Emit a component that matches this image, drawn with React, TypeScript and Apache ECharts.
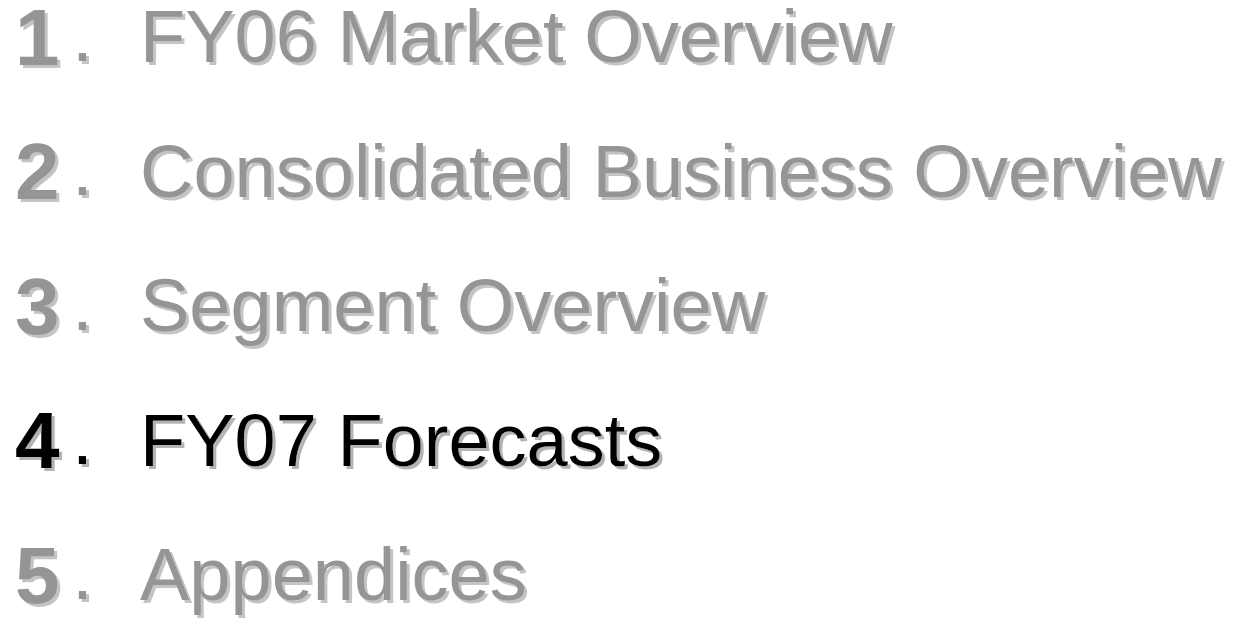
import React, { useEffect, useRef } from "react";
import * as echarts from "echarts";

const numbers = ["1", "2", "3", "4", "5"];
const titles = [
  "FY06 Market Overview",
  "Consolidated Business Overview",
  "Segment Overview",
  "FY07 Forecasts",
  "Appendices",
];
const activeIndex = 3;

export default function App() {
  const ref = useRef<HTMLDivElement>(null);
  useEffect(() => {
    if (!ref.current) return;
    const chart = echarts.init(ref.current, null, { renderer: "svg" });
    const font = "'Liberation Sans', Arial, sans-serif";
    const elements: any[] = [];
    const center0 = 37;
    const step = 134.6;
    numbers.forEach((n, i) => {
      const active = i === activeIndex;
      const fill = active ? "#000000" : "#959595";
      const shadow = active ? "#b4b4b4" : "#c4c4c4";
      const y = center0 + i * step;
      const parts = [
        { x: 15, dy: 0, text: n, fontSize: 80, fontWeight: "bold" },
        { x: 72, dy: -2.5, text: ".", fontSize: 75, fontWeight: "normal" },
        { x: 140, dy: -0.5, text: titles[i], fontSize: 74, fontWeight: "normal" },
      ];
      parts.forEach((p) => {
        elements.push({
          type: "text",
          x: p.x,
          y: y + p.dy,
          style: {
            text: p.text,
            fontSize: p.fontSize,
            fontWeight: p.fontWeight,
            fontFamily: font,
            lineHeight: 60,
            verticalAlign: "middle",
            fill,
            textShadowColor: shadow,
            textShadowBlur: 0.1,
            textShadowOffsetX: 3,
            textShadowOffsetY: 3,
          },
        });
      });
    });
    chart.setOption({
      animation: false,
      backgroundColor: "#ffffff",
      graphic: { elements },
    });
    return () => chart.dispose();
  }, []);
  return (
    <div
      ref={ref}
      style={{ position: "fixed", left: 0, top: 0, width: 1239, height: 621 }}
    />
  );
}
